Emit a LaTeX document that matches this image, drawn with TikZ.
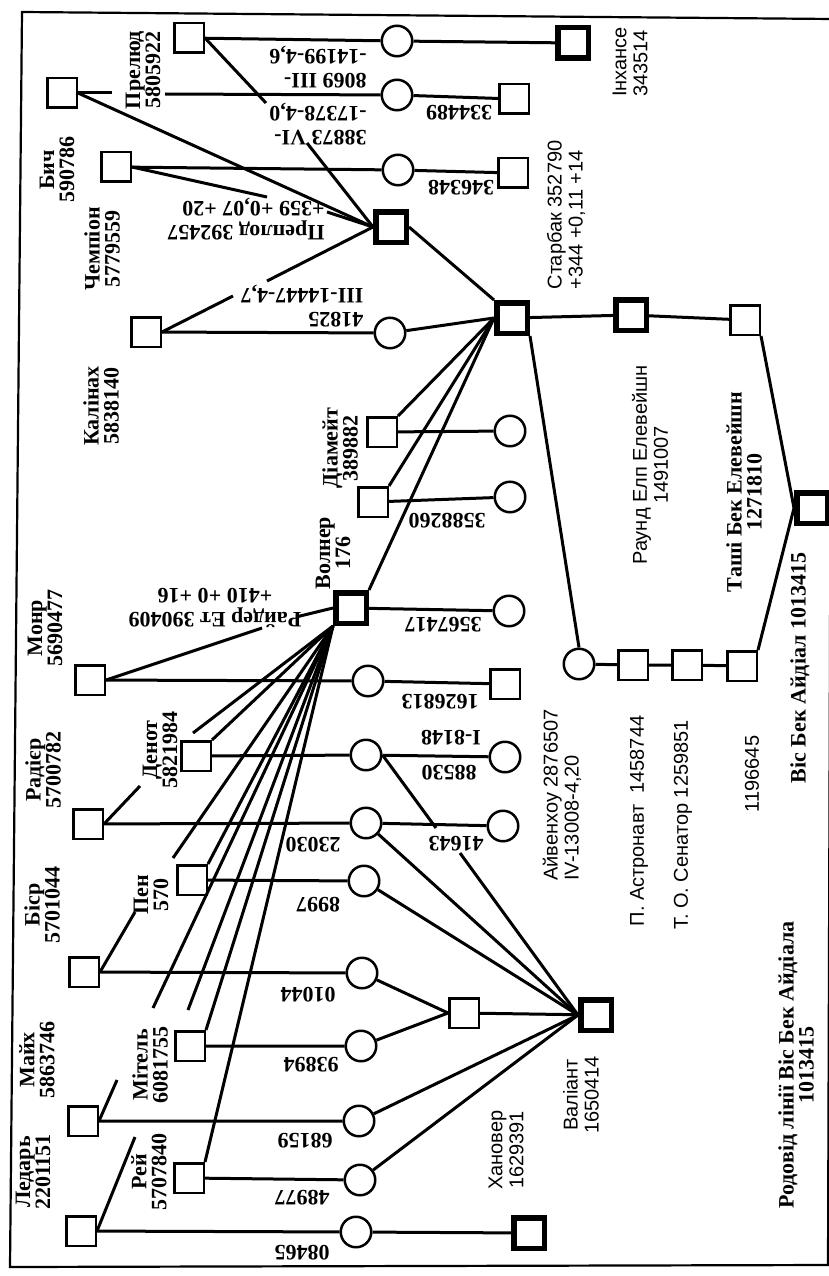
\documentclass[tikz,border=0pt]{standalone}
\usepackage{fontspec}
\setmainfont{Liberation Serif}
\setsansfont{Liberation Sans}

\begin{document}
\begin{tikzpicture}[x=1pt,y=-1pt,
  sq/.style={rectangle,draw,line width=2.5pt,minimum size=29.5pt,inner sep=0pt},
  bsq/.style={sq,line width=5.5pt,minimum size=30.5pt},
  cow/.style={circle,draw,line width=2.5pt,minimum size=30.5pt,inner sep=0pt},
  link/.style={line width=3pt},
  lbl/.style={rotate=90,align=center,inner sep=0pt,font=\bfseries\fontsize{22}{20}\selectfont},
  slbl/.style={rotate=90,align=left,inner sep=0pt,font=\sffamily\fontsize{20}{21}\selectfont},
  cid/.style={rotate=180,align=left,inner sep=0pt,font=\bfseries\fontsize{22}{24}\selectfont}
]
\useasboundingbox (0,0) rectangle (829,1276);
\fill[white] (0,0) rectangle (829,1276);
\draw[line width=2.2pt] (22,12) -- (832,19) -- (828,1265) -- (10,1267) -- cycle;

% animals
\node[sq] (prelud) at (189,38) {};
\node[cow] (c1) at (397,41) {};
\node[bsq] (inhance) at (573,43) {};
\node[sq] (bych) at (62,93) {};
\node[cow] (c2) at (397,95) {};
\node[sq] (s334489) at (514,99) {};
\node[sq] (champion) at (116,167) {};
\node[cow] (c3) at (398,170) {};
\node[sq] (s346348) at (513,173) {};
\node[bsq] (preplod) at (391,227) {};
\node[sq] (kalinakh) at (146,332) {};
\node[cow] (c4) at (390,333) {};
\node[bsq] (starbak) at (512,318) {};
\node[bsq] (raund) at (631,315) {};
\node[sq] (tashi) at (745,320) {};
\node[bsq] (bis) at (812,508) {};
\node[sq] (diamate) at (382,432) {};
\node[cow] (c5) at (510,431) {};
\node[sq] (r6) at (373,502) {};
\node[cow] (c6) at (510,497) {};
\node[bsq] (volner) at (351,608) {};
\node[cow] (c7) at (509,611) {};
\node[sq] (monr) at (90,680) {};
\node[cow] (c8) at (368,681) {};
\node[sq] (s1626813) at (505,684) {};
\node[cow] (aiv) at (579,664) {};
\node[sq] (astr) at (633,665) {};
\node[sq] (senator) at (687,665) {};
\node[sq] (s1196645) at (742,666) {};
\node[sq] (denot) at (196,756) {};
\node[cow] (c9) at (366,755) {};
\node[cow] (c9b) at (505,757) {};
\node[sq] (radier) at (88,824) {};
\node[cow] (c10) at (366,823) {};
\node[cow] (c10b) at (503,826) {};
\node[sq] (pen) at (192,880) {};
\node[cow] (c11) at (364,881) {};
\node[sq] (bisr) at (84,972) {};
\node[cow] (c12) at (362,973) {};
\node[sq] (mid) at (464,1013) {};
\node[bsq] (valiant) at (596,1015) {};
\node[sq] (mitel) at (190,1046) {};
\node[cow] (c13) at (361,1046) {};
\node[sq] (maikh) at (83,1121) {};
\node[cow] (c14) at (359,1121) {};
\node[sq] (rei) at (189,1178) {};
\node[cow] (c15) at (360,1180) {};
\node[sq] (ledar) at (81,1231) {};
\node[cow] (c16) at (356,1232) {};
\node[bsq] (khanover) at (529,1233) {};

% gaps where a line runs under a label
\coordinate (g1a) at (112,93);   \coordinate (g1b) at (165,94);
\coordinate (g2a) at (266,103);  \coordinate (g2b) at (307,143);
\coordinate (g3a) at (267,197);  \coordinate (g3b) at (327,212);
\coordinate (g4a) at (233,296);  \coordinate (g4b) at (267,281);
\coordinate (g5a) at (262,628);  \coordinate (g5b) at (296,617);
\coordinate (g6a) at (140,786);  \coordinate (g6b) at (193,733);
\coordinate (g7a) at (135,912);  \coordinate (g7b) at (173,858);
\coordinate (g8a) at (117,1080); \coordinate (g8b) at (153,1008);
\coordinate (g9a) at (135,1137); \coordinate (g9b) at (188,1010);
\coordinate (g10a) at (436,828); \coordinate (g10b) at (460,853);

% lines
\draw[link] (prelud) -- (c1) -- (inhance);
\draw[link] (bych) -- (g1a);
\draw[link] (g1b) -- (c2) -- (s334489);
\draw[link] (bych.east) -- (preplod.west);
\draw[link] (prelud.east) -- (g2a);
\draw[link] (g2b) -- (preplod.west);
\draw[link] (champion) -- (c3) -- (s346348);
\draw[link] (champion.east) -- (g3a);
\draw[link] (g3b) -- (preplod.west);
\draw[link] (kalinakh) -- (c4) -- (starbak.west);
\draw[link] (kalinakh.east) -- (g4a);
\draw[link] (g4b) -- (preplod.west);
\draw[link] (preplod.east) -- (starbak.north west);
\draw[link] (starbak) -- (raund) -- (tashi);
\draw[link] (tashi.south east) -- (bis.west);
\draw[link] (diamate) -- (c5);
\draw[link] (diamate.north east) -- (starbak.west);
\draw[link] (r6) -- (c6);
\draw[link] (r6.north east) -- (starbak.west);
\draw[link] (volner) -- (c7);
\draw[link] (volner.north east) -- (starbak.west);
\draw[link] (starbak.south east) -- (aiv.north);
\draw[link] (aiv) -- (astr) -- (senator) -- (s1196645);
\draw[link] (s1196645.north east) -- (bis.west);
\draw[link] (monr) -- (c8) -- (s1626813);
\draw[link] (monr.east) -- (g5a);
\draw[link] (g5b) -- (volner.west);
\draw[link] (denot) -- (c9) -- (c9b);
\draw[link] (denot.north east) -- (volner.south west);
\draw[link] (radier) -- (c10) -- (c10b);
\draw[link] (radier.east) -- (g6a);
\draw[link] (g6b) -- (volner.south west);
\draw[link] (pen) -- (c11);
\draw[link] (pen.north east) -- (volner.south west);
\draw[link] (bisr) -- (c12) -- (mid.west);
\draw[link] (bisr.east) -- (g7a);
\draw[link] (g7b) -- (volner.south west);
\draw[link] (mitel) -- (c13) -- (mid.west);
\draw[link] (mitel.north east) -- (volner.south west);
\draw[link] (mid) -- (valiant);
\draw[link] (maikh) -- (c14) -- (valiant.west);
\draw[link] (maikh.east) -- (g8a);
\draw[link] (g8b) -- (volner.south west);
\draw[link] (rei) -- (c15) -- (valiant.west);
\draw[link] (rei.north east) -- (volner.south west);
\draw[link] (ledar) -- (c16) -- (khanover);
\draw[link] (ledar.east) -- (g9a);
\draw[link] (g9b) -- (volner.south west);
\draw[link] (c9.east) -- (g10a);
\draw[link] (g10b) -- (valiant.west);
\draw[link] (c10) -- (valiant.west);
\draw[link] (c11) -- (valiant.west);

% names
\node[lbl] (t_prelud) at (143,70) {Прелюд\\5805922};
\node[lbl] (t_bych) at (57,170) {Бич\\590786};
\node[lbl] (t_champion) at (102,249) {Чемпіон\\5779559};
\node[lbl] (t_kalinakh) at (101,406) {Калінах\\5838140};
\node[lbl] (t_diamate) at (340,448) {Діамейт\\389882};
\node[lbl] (t_volner) at (333,553) {Волнер\\176};
\node[lbl] (t_monr) at (45,628) {Монр\\5690477};
\node[lbl] (t_denot) at (160,750) {Денот\\5821984};
\node[lbl] (t_radier) at (43,770) {Радієр\\5700782};
\node[lbl] (t_pen) at (151,895) {Пен\\570};
\node[lbl] (t_bisr) at (42,905) {Біср\\5701044};
\node[lbl] (t_maikh) at (37,1060) {Майх\\5863746};
\node[lbl] (t_mitel) at (150,1065) {Мітель\\6081755};
\node[lbl] (t_rei) at (149,1172) {Рей\\5707840};
\node[lbl] (t_ledar) at (33,1172) {Ледарь\\2201151};
\node[lbl] (t_tashi) at (744,492) {Таші Бек Елевейшн\\1271810};
\node[lbl] (t_bis) at (800,668) {Віс Бек Айдіал 1013415};
\node[lbl] (t_note) at (796,1065) {Родовід лінії Віс Бек Айдіала\\1013415};
\node[slbl] (t_inhance) at (630,62) {Інхансе\\343514};
\node[slbl] (t_starbak) at (566,215) {Старбак 352790\\+344 +0,11 +14};
\node[slbl,align=center] (t_raund) at (650,465) {Раунд Елп Елевейшн\\1491007};
\node[slbl] (t_aiv) at (562,795) {Айвенхоу 2876507\\IV-13008-4,20};
\node[slbl] (t_astr) at (639,821) {П. Астронавт\ \ 1458744};
\node[slbl] (t_senator) at (683,825) {Т. О. Сенатор 1259851};
\node[slbl] (t_1196645) at (752,774) {1196645};
\node[slbl,align=center] (t_valiant) at (581,1095) {Валіант\\1650414};
\node[slbl,align=center] (t_khanover) at (506,1150) {Хановер\\1629391};

% cow numbers
\node[cid] (n1) at (318,67) {8069 III-\\-14199-4,6};
\node[cid] (n2) at (318,124) {38873 VI-\\-17378-4,0};
\node[cid] (n3) at (459,113) {334489};
\node[cid] (n4) at (461,188) {346348};
\node[cid] (n5) at (246,219) {Преплод 392457\\+359 +0,07 +20};
\node[cid] (n6) at (302,306) {41825\\III-14447-4,7};
\node[cid] (n7) at (447,521) {3588260};
\node[cid,align=center] (n8) at (215,608) {Райдер Ет 390409\\+410 +0 +16};
\node[cid] (n9) at (443,625) {3567417};
\node[cid] (n10) at (440,702) {1626813};
\node[cid] (n11) at (451,738) {I-8148};
\node[cid] (n12) at (449,773) {88530};
\node[cid] (n13) at (313,845) {23030};
\node[cid] (n14) at (456,844) {41643};
\node[cid] (n15) at (318,905) {8997};
\node[cid] (n16) at (308,995) {01044};
\node[cid] (n17) at (311,1065) {93894};
\node[cid] (n18) at (305,1141) {68159};
\node[cid] (n19) at (302,1198) {48977};
\node[cid] (n20) at (302,1253) {08465};
\end{tikzpicture}
\end{document}
